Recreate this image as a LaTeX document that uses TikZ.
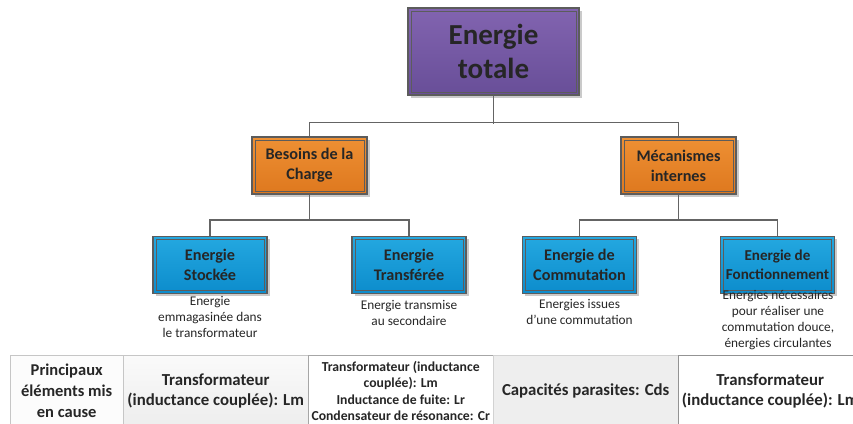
\documentclass[tikz,border=0pt]{standalone}
\usepackage{fontspec}
\setmainfont{Carlito}
\usepackage{tikz}
\usetikzlibrary{shadows,positioning}
\definecolor{violetA}{RGB}{130,100,176}
\definecolor{violetB}{RGB}{104,78,152}
\definecolor{orangeA}{RGB}{238,144,52}
\definecolor{orangeB}{RGB}{222,120,30}
\definecolor{bleuA}{RGB}{36,168,224}
\definecolor{bleuB}{RGB}{12,140,204}
\definecolor{bord}{RGB}{92,92,92}
\definecolor{texte}{RGB}{38,38,38}
\definecolor{trait}{RGB}{100,100,100}

\begin{document}
\begin{tikzpicture}[x=1pt,y=-1pt,
  boite/.style={draw=bord,line width=1.2pt,align=center,inner sep=0pt,text=texte,font=\bfseries,
    drop shadow={shadow xshift=2.5pt,shadow yshift=-2.5pt,opacity=0.35,fill=black!60},
    path picture={\draw[bord,line width=0.6pt] ([shift={(3pt,-3pt)}]path picture bounding box.north west) rectangle ([shift={(-3pt,3pt)}]path picture bounding box.south east);}},
  niveauA/.style={boite,top color=violetA,bottom color=violetB,minimum width=171pt,minimum height=87pt,
    font=\bfseries\fontsize{29}{34}\selectfont},
  niveauB/.style={boite,top color=orangeA,bottom color=orangeB,minimum width=115pt,minimum height=57pt,
    font=\bfseries\fontsize{16.2}{20}\selectfont},
  niveauC/.style={boite,top color=bleuA,bottom color=bleuB,minimum width=114pt,minimum height=57pt,
    font=\bfseries\fontsize{16.2}{19.5}\selectfont},
  note/.style={anchor=north,align=center,inner sep=0pt,text=texte,font=\fontsize{13.3}{16}\selectfont},
  cell/.style={anchor=north west,align=center,inner sep=0pt,minimum height=72pt,text=texte,
    font=\bfseries\fontsize{16.8}{19.5}\selectfont},
  lien/.style={draw=trait,line width=1.6pt}]
  \useasboundingbox (0,0) rectangle (853,423);
  \clip (0,0) rectangle (853,423);

  % arbre
  \node[niveauA] (total) at (493.5,51.5) {Energie\\totale};
  \node[niveauB] (besoins) at (309.5,165.5) {Besoins de la\\Charge};
  \node[niveauB] (mecanismes) at (678.5,165.5) {Mécanismes\\internes};
  \node[niveauC] (stockee) at (210,265) {Energie\\Stockée};
  \node[niveauC] (transferee) at (409,265) {Energie\\Transférée};
  \node[niveauC] (commutation) at (579.5,265) {Energie de\\Commutation};
  \node[niveauC,font=\bfseries\fontsize{15.1}{19}\selectfont] (fonction) at (777.5,265) {Energie de\\Fonctionnement};

  \draw[lien] (total.south) -- ++(0,28);
  \draw[lien] (besoins.north) -- ++(0,-14) -| (mecanismes.north);
  \draw[lien] (besoins.south) -- ++(0,26);
  \draw[lien] (stockee.north) -- ++(0,-16) -| (transferee.north);
  \draw[lien] (mecanismes.south) -- ++(0,26);
  \draw[lien] (commutation.north) -- ++(0,-16) -| (fonction.north);

  % notes
  \node[note] (nstockee) at (210,296) {Energie\\emmagasinée dans\\le transformateur};
  \node[note] (ntransferee) at (409,300) {Energie transmise\\au secondaire};
  \node[note] (ncommutation) at (579.5,299) {Energies issues\\d’une commutation};
  \node[note] (nfonction) at (778,290) {Energies nécessaires\\pour réaliser une\\commutation douce,\\énergies circulantes};

  % tableau
  \node[cell,draw=gray!45,fill=gray!2,minimum width=113pt,font=\bfseries\fontsize{16.5}{21}\selectfont] (tab1) at (10,355) {Principaux\\éléments mis\\en cause};
  \node[cell,draw=gray!45,top color=gray!4,bottom color=gray!14,minimum width=185pt] (tab2) at (123,355) {Transformateur\\(inductance couplée): Lm};
  \node[cell,draw=gray!70,fill=white,minimum width=185pt,font=\bfseries\fontsize{13.7}{16.5}\selectfont,
    drop shadow={shadow xshift=1.5pt,shadow yshift=-1.5pt,opacity=0.3,fill=black!50}] (tab3) at (308,355)
    {Transformateur (inductance\\couplée): Lm\\Inductance de fuite: Lr\\Condensateur de résonance: Cr};
  \node[cell,draw=gray!35,fill=gray!13,minimum width=185pt] (tab4) at (493,355) {Capacités parasites: Cds};
  \node[cell,draw=gray!85,fill=white,minimum width=184pt] (tab5) at (678,355) {Transformateur\\(inductance couplée): Lm};
\end{tikzpicture}
\end{document}
